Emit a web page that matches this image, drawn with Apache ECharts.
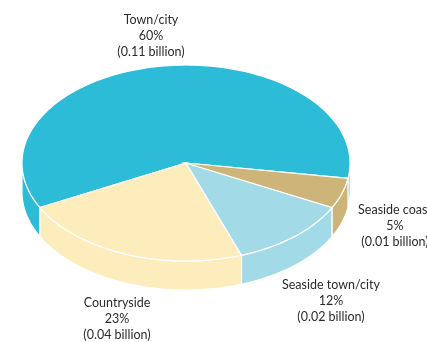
<!DOCTYPE html>
<html>
<head>
<meta charset="utf-8">
<script src="https://cdn.jsdelivr.net/npm/echarts@6/dist/echarts.min.js"></script>
<style>
html,body{margin:0;padding:0;background:#fff;}
#chart{width:427px;height:342px;}
</style>
</head>
<body>
<div id="chart"></div>
<script>
// ---- data ----
var categories = ['Town/city', 'Countryside', 'Seaside town/city', 'Seaside coast'];
var shares = [60, 23, 12, 5];
var billions = ['0.11', '0.04', '0.02', '0.01'];

// ---- layout / style ----
var colors = ['#2dbcd8', '#fdedbc', '#a2dae8', '#cdb478'];
var CX = 186, CY = 163, RX = 164, RY = 98, DEPTH = 29;
var START = 9; // degrees, screen (clockwise, y down)
var labelAnchors = [[151, 36], [117, 319], [331, 301], [395, 226]];

var total = shares.reduce(function (a, b) { return a + b; }, 0);
var bounds = [];
(function () {
  var a = START;
  for (var i = 0; i < shares.length; i++) {
    var span = shares[i] / total * 360;
    bounds.push([a - span, a]); // [lo, hi]
    a -= span;
  }
})();

function pt(api, deg, dy) {
  var r = deg * Math.PI / 180;
  return api.coord([CX + RX * Math.cos(r), CY + RY * Math.sin(r) + (dy || 0)]);
}
function arcPts(api, a0, a1, dy) {
  var pts = [];
  var n = Math.max(2, Math.ceil(Math.abs(a1 - a0) / 1.5));
  for (var k = 0; k <= n; k++) pts.push(pt(api, a0 + (a1 - a0) * k / n, dy));
  return pts;
}

function renderItem(params, api) {
  var i = params.dataIndex;
  var lo = bounds[i][0], hi = bounds[i][1];
  var span = hi - lo;
  while (lo < 0) lo += 360;
  while (lo >= 360) lo -= 360;
  hi = lo + span;
  var children = [];
  var ranges = [[0, 180], [360, 540]];
  ranges.forEach(function (r) {
    var a = Math.max(lo, r[0]), b = Math.min(hi, r[1]);
    if (b > a) {
      var top = arcPts(api, a, b, 0);
      var bot = arcPts(api, b, a, DEPTH);
      children.push({
        type: 'polygon',
        shape: { points: top.concat(bot) },
        style: { fill: colors[i], stroke: '#ffffff', lineWidth: 1.2 }
      });
    }
  });
  var c = api.coord([CX, CY]);
  var topPts = [c].concat(arcPts(api, lo, hi, 0));
  children.push({
    type: 'polygon',
    shape: { points: topPts },
    style: { fill: colors[i], stroke: '#ffffff', lineWidth: 1.2 }
  });
  var la = api.coord(labelAnchors[i]);
  children.push({
    type: 'text',
    x: la[0], y: la[1],
    style: {
      text: categories[i] + '\n' + shares[i] + '%\n(' + billions[i] + ' billion)',
      textAlign: 'center',
      textVerticalAlign: 'middle',
      fontFamily: 'Lato',
      fontSize: 12.5,
      lineHeight: 16,
      fill: '#2b2b2b'
    }
  });
  return { type: 'group', children: children };
}

var chart = echarts.init(document.getElementById('chart'), null, { renderer: 'canvas' });
chart.setOption({
  animation: false,
  grid: { left: 0, right: 0, top: 0, bottom: 0 },
  xAxis: { type: 'value', min: 0, max: 427, show: false },
  yAxis: { type: 'value', min: 0, max: 342, inverse: true, show: false },
  series: [{
    type: 'custom',
    renderItem: renderItem,
    clip: false,
    data: shares.map(function (v, i) { return [i, v]; })
  }]
});
</script>
</body>
</html>
